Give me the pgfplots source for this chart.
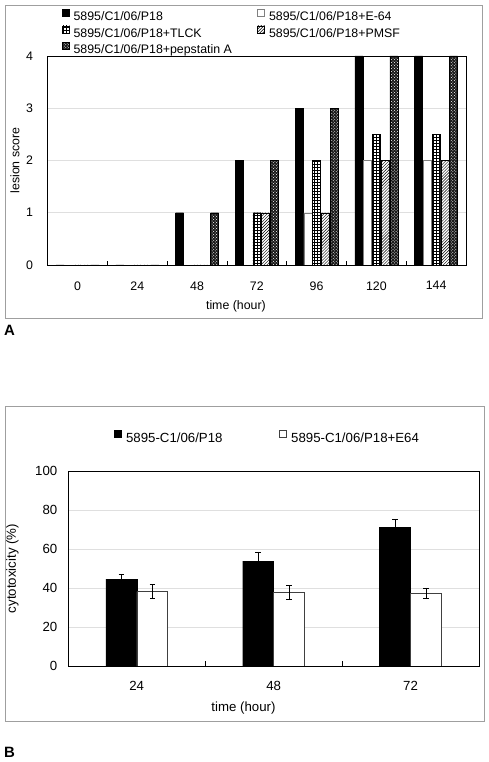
\documentclass[border=0pt]{standalone}
\usepackage{fontspec}
\setmainfont{Liberation Sans}
\usepackage{pgfplots}
\pgfplotsset{compat=1.18}
\usetikzlibrary{patterns}

\pgfplotstableread{
x p18 e64 tlck pmsf pep
0 0 0 0 0 0
1 0 0 0 0 0
2 1 0 0 0 1
3 2 0 1 1 2
4 3 1 2 1 3
5 4 2 2.5 2 4
6 4 2 2.5 2 4
}\lesiondata

\pgfplotsset{
  sqleg/.style={legend image code/.code={\draw[##1,line width=0.6bp] (0bp,0.8bp) rectangle (7bp,7.8bp);}},
}

\begin{document}
\begin{tikzpicture}
\useasboundingbox (0,0) rectangle (489bp,762bp);
\draw[gray!75, line width=0.8bp] (5bp,757bp) rectangle (482bp,444bp);
\draw[gray!75, line width=0.8bp] (5bp,356bp) rectangle (484bp,41bp);
\node[anchor=west, inner sep=0pt, font=\bfseries\fontsize{15}{15}\selectfont] at (4bp,432bp) {A};
\node[anchor=west, inner sep=0pt, font=\bfseries\fontsize{15}{15}\selectfont] at (4bp,10bp) {B};

% ---------- Panel A ----------
\begin{axis}[
  at={(47.7bp,497bp)}, anchor=south west,
  width=418.3bp, height=209bp, scale only axis,
  xmin=-0.5, xmax=6.5, ymin=0, ymax=4,
  ybar, bar width=0.133,
  xtick={0,...,6}, xticklabels={0,24,48,72,96,120,144},
  minor xtick={0.5,1.5,...,5.5},
  ytick={0,...,4},
  xtick pos=bottom, ytick pos=left,
  major tick length=0pt, minor tick length=4bp, tick align=inside,
  ymajorgrids, grid style={gray!25, line width=0.6bp},
  axis line style={line width=0.9bp},
  minor tick style={black, line width=0.6bp},
  /pgf/number format/assume math mode=true,
  tick label style={font=\fontsize{12.4}{14}\selectfont},
  label style={font=\fontsize{12.4}{14}\selectfont},
  xticklabel style={inner sep=0pt, anchor=north, yshift=-16.3bp},
  yticklabel style={inner sep=0pt, anchor=east, xshift=-14.5bp},
  xlabel={time (hour)}, ylabel={lesion score},
  xlabel style={at={(axis description cs:0.450,-0.1995)}, anchor=center},
  ylabel style={at={(axis description cs:-0.078,0.5)}, anchor=center},
  legend columns=2, legend cell align=left,
  legend style={at={(axis description cs:0.0337,1.2263)}, anchor=north west,
    draw=none, fill=none, inner sep=0pt, font=\fontsize{12.4}{14}\selectfont,
    nodes={inner sep=1.5bp}, column sep=0pt, row sep=1.8bp,
    /tikz/column 1/.style={column sep=2.5bp},
    /tikz/column 3/.style={column sep=2.5bp},
    /tikz/column 2/.style={column sep=24bp}},
]
\addplot[bar shift=-0.293, draw=black, fill=black, sqleg] table[x=x,y=p18]{\lesiondata};
\addlegendentry{5895/C1/06/P18}
\addplot[bar shift=-0.1465, draw=gray, fill=white, sqleg] table[x=x,y=e64]{\lesiondata};
\addlegendentry{5895/C1/06/P18+E-64}
\addplot[bar shift=0, draw=black, fill=white, postaction={pattern=grid, pattern color=black}, sqleg] table[x=x,y=tlck]{\lesiondata};
\addlegendentry{5895/C1/06/P18+TLCK}
\addplot[bar shift=0.1465, draw=black, fill=white, postaction={pattern=north east lines, pattern color=black}, sqleg] table[x=x,y=pmsf]{\lesiondata};
\addlegendentry{5895/C1/06/P18+PMSF}
\addplot[bar shift=0.293, draw=black, fill=black!90, postaction={pattern=crosshatch dots, pattern color=white}, sqleg] table[x=x,y=pep]{\lesiondata};
\addlegendentry{5895/C1/06/P18+pepstatin A}
\end{axis}

% ---------- Panel B ----------
\begin{axis}[
  at={(68.3bp,96bp)}, anchor=south west,
  width=410.7bp, height=195bp, scale only axis,
  xmin=-0.5, xmax=2.5, ymin=0, ymax=100,
  ybar, bar width=0.226,
  xtick={0,1,2}, xticklabels={24,48,72},
  minor xtick={0.5,1.5},
  ytick={0,20,...,100},
  xtick pos=bottom, ytick pos=left,
  major tick length=0pt, minor tick length=5bp, tick align=inside,
  ymajorgrids, grid style={gray!25, line width=0.6bp},
  axis line style={line width=0.9bp},
  minor tick style={black, line width=0.6bp},
  /pgf/number format/assume math mode=true,
  tick label style={font=\fontsize{13.3}{15}\selectfont},
  label style={font=\fontsize{13.3}{15}\selectfont},
  xticklabel style={inner sep=0pt, anchor=north, yshift=-15.3bp},
  yticklabel style={inner sep=0pt, anchor=east, xshift=-10.8bp},
  xlabel={time (hour)}, ylabel={cytotoxicity (\%)},
  xlabel style={at={(axis description cs:0.4266,-0.2154)}, anchor=center},
  ylabel style={at={(axis description cs:-0.1359,0.5)}, anchor=center},
  legend columns=2, legend cell align=left,
  legend style={at={(axis description cs:0.1107,1.1708)}, anchor=west,
    draw=none, fill=none, inner sep=0pt, font=\fontsize{13.3}{15}\selectfont,
    nodes={inner sep=1.5bp}, column sep=0pt,
    /tikz/column 1/.style={column sep=3bp},
    /tikz/column 3/.style={column sep=3bp},
    /tikz/column 2/.style={column sep=55bp}},
  error bars/error bar style={black, line width=0.6bp},
  error bars/error mark options={rotate=90, black, line width=0.6bp, mark size=2.7bp},
]
\addplot[bar shift=-0.113, draw=black, fill=black, sqleg,
  error bars/.cd, y dir=both, y explicit]
  coordinates {(0,44.5) +- (0,2.5) (1,53.8) +- (0,4.7) (2,71.2) +- (0,3.9)};
\addlegendentry{5895-C1/06/P18}
\addplot[bar shift=0.113, draw=black!75, fill=white, sqleg,
  error bars/.cd, y dir=both, y explicit]
  coordinates {(0,38.2) +- (0,3.6) (1,37.8) +- (0,3.4) (2,37.3) +- (0,2.8)};
\addlegendentry{5895-C1/06/P18+E64}
\end{axis}
\end{tikzpicture}
\end{document}
